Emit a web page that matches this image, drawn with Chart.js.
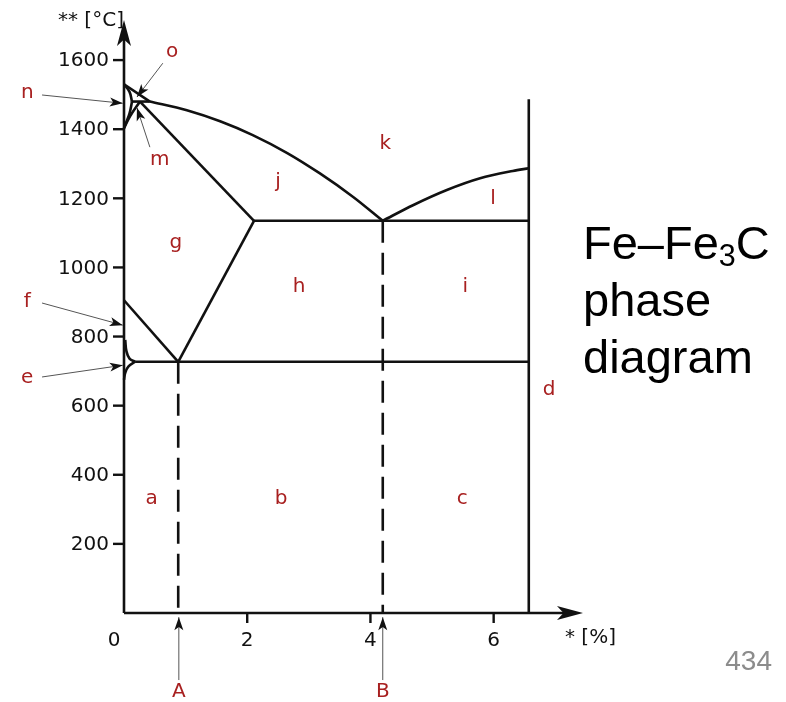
<!DOCTYPE html>
<html>
<head>
<meta charset="utf-8">
<script src="https://cdn.jsdelivr.net/npm/chart.js@4/dist/chart.umd.min.js"></script>
<style>
  html, body { margin: 0; padding: 0; background: #fff; }
  #wrap { position: relative; width: 786px; height: 702px; }
  #title {
    position: absolute; left: 583px; top: 214px;
    font-family: "Liberation Sans", Arial, sans-serif;
    font-size: 47px; line-height: 57px; color: #000;
  }
  #title sub { font-size: 0.65em; vertical-align: baseline; position: relative; top: 0.22em; line-height: 0; }
  #page {
    position: absolute; right: 14px; top: 645px;
    font-family: "Liberation Sans", Arial, sans-serif;
    font-size: 28px; color: #8c8c8c;
  }
</style>
</head>
<body>
<div id="wrap">
  <canvas id="chart" width="786" height="702"></canvas>
  <div id="title">Fe–Fe<sub>3</sub>C<br>phase<br>diagram</div>
  <div id="page">434</div>
</div>
<script>
// phase boundaries: [carbon %, temperature °C]
const liquidusDelta = [[0, 1530], [0.42, 1480]];
const liquidusGamma = [[0.42, 1480], [1.02, 1455], [1.56, 1423], [2.09, 1383], [2.65, 1331], [3.18, 1272], [3.72, 1204], [4.2, 1135]];
const liquidusCementite = [[4.2, 1135], [4.69, 1180], [5.24, 1224], [5.78, 1258], [6.31, 1279], [6.57, 1287]];
const deltaSolidus = [[0, 1530], [0.09, 1508], [0.13, 1480]];
const peritecticLine = [[0.13, 1480], [0.42, 1480]];
const deltaSolvus = [[0.13, 1480], [0.09, 1446], [0.03, 1417], [0, 1403]];
const gammaDelta = [[0, 1403], [0.1, 1438], [0.26, 1480]];
const gammaSolidus = [[0.26, 1480], [2.11, 1135]];
const eutecticLine = [[2.11, 1135], [6.57, 1135]];
const acmLine = [[0.88, 727], [2.11, 1135]];
const a3Line = [[0, 905], [0.88, 727]];
const alphaGamma = [[0.02, 790], [0.04, 757], [0.09, 736], [0.18, 727]];
const alphaSolvus = [[0.18, 727], [0.07, 713], [0.02, 695], [0, 675]];
const eutectoidLine = [[0.18, 727], [6.57, 727]];
const cementiteLine = [[6.57, 1487], [6.57, 0]];
// dashed verticals at the eutectoid and eutectic compositions
const eutectoidDrop = [[0.88, 727], [0.88, 0]];
const eutecticDrop = [[4.2, 1135], [4.2, 0]];

const tempTicks = [200, 400, 600, 800, 1000, 1200, 1400, 1600];
const carbonTicks = [0, 2, 4, 6];

// region letters
const regionLabels = [
  ['o', 0.78, 1623], ['n', -1.57, 1505], ['m', 0.58, 1311],
  ['k', 4.24, 1357], ['j', 2.50, 1247], ['l', 5.99, 1198],
  ['g', 0.84, 1071], ['h', 2.84, 943], ['i', 5.54, 943],
  ['f', -1.57, 900], ['e', -1.57, 680], ['d', 6.90, 645],
  ['a', 0.45, 330], ['b', 2.55, 330], ['c', 5.49, 330],
  ['A', 0.89, -229], ['B', 4.2, -229]
];
// leader arrows: from -> tip
const pointers = [
  [[0.63, 1591], [0.21, 1493]],
  [[-1.33, 1499], [-0.02, 1475]],
  [[0.42, 1348], [0.21, 1462]],
  [[-1.33, 897], [-0.02, 833]],
  [[-1.33, 683], [-0.02, 717]],
  [[0.89, -194], [0.89, -12]],
  [[4.2, -194], [4.2, -12]]
];

const pts = arr => arr.map(p => ({x: p[0], y: p[1]}));

function line(data, opts) {
  return Object.assign({
    data: pts(data), showLine: true, pointRadius: 0,
    borderColor: '#111', borderWidth: 2.6, fill: false, clip: false
  }, opts || {});
}

function arrowHead(ctx, x1, y1, x2, y2, len, half) {
  const a = Math.atan2(y2 - y1, x2 - x1);
  const c = Math.cos(a), s = Math.sin(a);
  ctx.beginPath();
  ctx.moveTo(x2, y2);
  ctx.lineTo(x2 - len * c + half * s, y2 - len * s - half * c);
  ctx.lineTo(x2 - len * 0.75 * c, y2 - len * 0.75 * s);
  ctx.lineTo(x2 - len * c - half * s, y2 - len * s + half * c);
  ctx.closePath();
  ctx.fill();
}

const decor = {
  id: 'decor',
  afterDatasetsDraw(chart) {
    const ctx = chart.ctx;
    const sx = chart.scales.x, sy = chart.scales.y;
    const px = v => sx.getPixelForValue(v), py = v => sy.getPixelForValue(v);
    const x0 = px(0), y0 = py(0);
    ctx.save();

    // axes
    ctx.strokeStyle = '#111';
    ctx.fillStyle = '#111';
    ctx.lineWidth = 2.6;
    ctx.beginPath();
    ctx.moveTo(x0, y0);
    ctx.lineTo(x0, sy.top + 10);
    ctx.moveTo(x0, y0);
    ctx.lineTo(sx.right - 10, y0);
    ctx.stroke();
    arrowHead(ctx, x0, y0, x0, sy.top, 26, 7);
    arrowHead(ctx, x0, y0, sx.right, y0, 26, 7);

    // tick marks and labels
    ctx.font = '20px "DejaVu Sans"';
    ctx.lineWidth = 2.4;
    ctx.textAlign = 'right';
    ctx.textBaseline = 'middle';
    tempTicks.forEach(t => {
      ctx.beginPath();
      ctx.moveTo(x0 - 11, py(t));
      ctx.lineTo(x0, py(t));
      ctx.stroke();
      ctx.fillText(String(t), x0 - 15, py(t) + 1);
    });
    ctx.textAlign = 'center';
    carbonTicks.forEach(c => {
      if (c > 0) {
        ctx.beginPath();
        ctx.moveTo(px(c), y0);
        ctx.lineTo(px(c), y0 + 10);
        ctx.stroke();
      }
      ctx.fillText(String(c), c === 0 ? px(c) - 10 : px(c), y0 + 28);
    });
    ctx.textAlign = 'left';
    ctx.fillText('** [°C]', 58, 21);
    ctx.fillText('* [%]', 565, 638);

    // leader arrows
    pointers.forEach(([f, t]) => {
      ctx.strokeStyle = '#555';
      ctx.lineWidth = 1;
      ctx.beginPath();
      ctx.moveTo(px(f[0]), py(f[1]));
      ctx.lineTo(px(t[0]), py(t[1]));
      ctx.stroke();
      ctx.fillStyle = '#111';
      arrowHead(ctx, px(f[0]), py(f[1]), px(t[0]), py(t[1]), 13, 4.5);
    });

    // region letters
    ctx.fillStyle = '#a82020';
    ctx.textAlign = 'center';
    ctx.textBaseline = 'middle';
    regionLabels.forEach(([s, c, t]) => ctx.fillText(s, px(c), py(t)));
    ctx.restore();
  }
};

new Chart(document.getElementById('chart'), {
  type: 'scatter',
  data: {
    datasets: [
      line(liquidusDelta),
      line(liquidusGamma, {cubicInterpolationMode: 'monotone'}),
      line(liquidusCementite, {cubicInterpolationMode: 'monotone'}),
      line(deltaSolidus, {tension: 0.4}),
      line(peritecticLine),
      line(deltaSolvus, {tension: 0.4}),
      line(gammaDelta, {tension: 0.4}),
      line(gammaSolidus),
      line(eutecticLine),
      line(acmLine),
      line(a3Line),
      line(alphaGamma, {tension: 0.4}),
      line(alphaSolvus, {tension: 0.4}),
      line(eutectoidLine),
      line(cementiteLine),
      line(eutectoidDrop, {borderDash: [22, 10]}),
      line(eutecticDrop, {borderDash: [22, 10]})
    ]
  },
  options: {
    responsive: false,
    animation: false,
    layout: { padding: { left: 124, right: 203, top: 20, bottom: 89 } },
    scales: {
      x: { type: 'linear', min: 0, max: 7.45, display: false },
      y: { type: 'linear', min: 0, max: 1716, display: false }
    },
    plugins: { legend: { display: false }, tooltip: { enabled: false } }
  },
  plugins: [decor]
});
</script>
</body>
</html>
